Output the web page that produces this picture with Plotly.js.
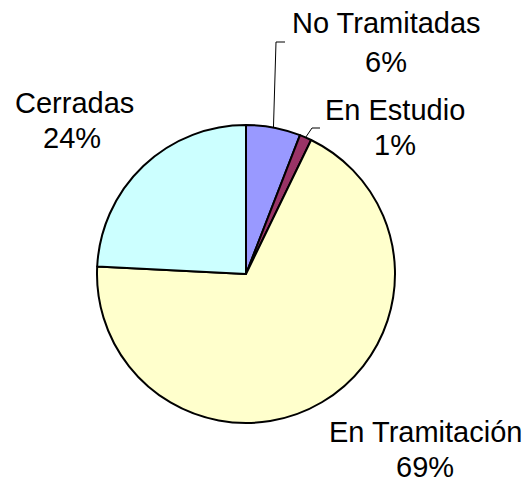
<!DOCTYPE html>
<html>
<head>
<meta charset="utf-8">
<script src="https://cdn.plot.ly/plotly-3.0.1.min.js"></script>
<style>html,body{margin:0;padding:0;background:#fff;}#chart{width:529px;height:484px;}</style>
</head>
<body>
<div id="chart"></div>
<script>
// Data
var categories = ["No Tramitadas", "En Estudio", "En Tramitación", "Cerradas"];
var values = [5.9, 1.3, 68.6, 24.2];
var colors = ["#9999FF", "#993366", "#FFFFCC", "#CCFFFF"];

var W = 529, H = 484;
var cx = 246, cy = 274, R = 149;
function px(x) { return x / W; }
function py(y) { return 1 - y / H; }

var total = values.reduce(function (a, b) { return a + b; }, 0);
var pct = values.map(function (v) { return Math.round(v / total * 100) + "%"; });

// label layout (center x, baseline y for the two lines) in pixels, same order as categories
var labelPos = [
  [386, 33, 386, 72],
  [395, 120, 395, 155],
  [425, 442, 425, 477],
  [74, 113, 72, 148]
];
var font = {family: "Liberation Sans, Arial, sans-serif", size: 29, color: "#000"};
var annotations = [];
categories.forEach(function (c, i) {
  var p = labelPos[i];
  annotations.push({xref: "paper", yref: "paper", x: px(p[0]), y: py(p[1] - 10), text: c,
    showarrow: false, xanchor: "center", yanchor: "middle", font: font});
  annotations.push({xref: "paper", yref: "paper", x: px(p[2]), y: py(p[3] - 10), text: pct[i],
    showarrow: false, xanchor: "center", yanchor: "middle", font: font});
});

// leader lines: end at mid-angle of slice on the pie edge
function midPoint(i) {
  var before = 0;
  for (var k = 0; k < i; k++) before += values[k];
  var frac = (before + values[i] / 2) / total;
  var th = frac * 2 * Math.PI;
  return [cx + R * Math.sin(th), cy - R * Math.cos(th)];
}
var leaders = [
  {idx: 0, pts: [[285, 42], [276, 42]]},
  {idx: 1, pts: [[320, 128], [312, 128]]}
];
var shapes = leaders.map(function (L) {
  var end = midPoint(L.idx);
  var all = L.pts.concat([end]);
  var d = all.map(function (p, j) { return (j ? "L" : "M") + px(p[0]) + "," + py(p[1]); }).join(" ");
  return {type: "path", xref: "paper", yref: "paper", path: d, line: {color: "#000", width: 1}};
});

var trace = {
  type: "pie",
  labels: categories,
  values: values,
  sort: false,
  direction: "clockwise",
  rotation: 0,
  textinfo: "none",
  hoverinfo: "label+percent",
  marker: {colors: colors, line: {color: "#000", width: 2}},
  domain: {x: [px(cx - R), px(cx + R)], y: [py(cy + R), py(cy - R)]}
};

var layout = {
  width: W, height: H,
  margin: {l: 0, r: 0, t: 0, b: 0},
  showlegend: false,
  paper_bgcolor: "#fff",
  annotations: annotations,
  shapes: shapes
};

Plotly.newPlot("chart", [trace], layout, {displayModeBar: false, staticPlot: true});
</script>
</body>
</html>
